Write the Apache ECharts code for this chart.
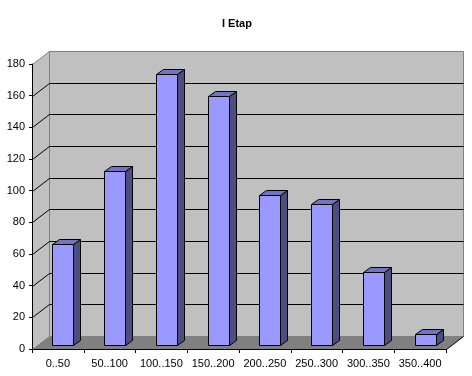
<!DOCTYPE html>
<html><head><meta charset="utf-8">
<script src="https://cdn.jsdelivr.net/npm/echarts@6/dist/echarts.min.js"></script>
<style>html,body{margin:0;padding:0;background:#fff}#c{width:472px;height:376px}</style>
</head><body><div id="c"></div>
<script>
const chartTitle = 'I Etap';
const categories = ['0..50','50..100','100..150','150..200','200..250','250..300','300..350','350..400'];
const values = [64, 110, 171, 157, 95, 89, 46, 7];
const yTicks = [0, 20, 40, 60, 80, 100, 120, 140, 160, 180];

const DX = 17, DY = -13;   // wall depth offset
const BX = 5, BY = -4;     // bar plane offset
const SX = 7, SY = -5;     // bar depth
const BAR = 0.41;
const FONT = 'Liberation Sans, Arial, sans-serif';

const px = v => Math.round(v) + 0.5;

function frame(params, api) {
  const cs = params.coordSys;
  const x0 = px(cs.x), x1 = px(cs.x + cs.width), yb = px(cs.y + cs.height), yt = px(cs.y);
  const c = [];
  c.push({type:'rect', shape:{x:x0+DX, y:yt+DY, width:x1-x0, height:yb-yt}, style:{fill:'#c0c0c0', stroke:'#808080', lineWidth:1}});
  c.push({type:'polygon', shape:{points:[[x0,yt],[x0+DX,yt+DY],[x0+DX,yb+DY],[x0,yb]]}, style:{fill:'#c0c0c0'}});
  c.push({type:'line', shape:{x1:x0,y1:yt,x2:x0+DX,y2:yt+DY}, style:{stroke:'#808080', lineWidth:1}});
  c.push({type:'line', shape:{x1:x0+DX,y1:yt+DY,x2:x0+DX,y2:yb+DY}, style:{stroke:'#808080', lineWidth:1}});
  yTicks.forEach((t, i) => {
    if (i === 0 || i === yTicks.length - 1) return;
    const y = px(api.coord([0, t])[1]);
    c.push({type:'polyline', shape:{points:[[x0,y],[x0+DX,y+DY],[x1+DX,y+DY]]}, style:{stroke:'#000', lineWidth:1, fill:null}});
  });
  c.push({type:'polygon', shape:{points:[[x0,yb],[x1,yb],[x1+DX,yb+DY],[x0+DX,yb+DY]]}, style:{fill:'#808080'}});
  c.push({type:'line', shape:{x1:x0,y1:yb,x2:x0+DX,y2:yb+DY}, style:{stroke:'#808080', lineWidth:1}});
  c.push({type:'line', shape:{x1:x1,y1:yb,x2:x1+DX,y2:yb+DY}, style:{stroke:'#000', lineWidth:1}});
  return {type:'group', children:c};
}

function bar(params, api) {
  const top = api.coord([api.value(0), api.value(1)]);
  const base = api.coord([api.value(0), 0]);
  const w = api.size([1, 0])[0] * BAR;
  const l = px(top[0] - w/2 + BX), r = px(top[0] + w/2 + BX);
  const t = px(top[1] + BY), b = px(base[1] + BY);
  const st = {stroke:'#000', lineWidth:1, lineJoin:'miter'};
  return {type:'group', children:[
    {type:'polygon', shape:{points:[[r,t],[r+SX,t+SY],[r+SX,b+SY],[r,b]]}, style:Object.assign({fill:'#4d4d80'}, st)},
    {type:'polygon', shape:{points:[[l,t],[l+SX,t+SY],[r+SX,t+SY],[r,t]]}, style:Object.assign({fill:'#7373c0'}, st)},
    {type:'rect', shape:{x:l, y:t, width:r-l, height:b-t}, style:Object.assign({fill:'#9999ff'}, st)}
  ]};
}

const chart = echarts.init(document.getElementById('c'));
chart.setOption({
  animation: false,
  backgroundColor: '#fff',
  title: {text: chartTitle, left: 217, top: 13, textStyle:{fontFamily:FONT, fontSize:11, fontWeight:'bold', color:'#000'}},
  grid: {left: 32, right: 26, top: 64, bottom: 27},
  xAxis: {
    type: 'category', data: categories, z: 10,
    axisLine: {show: true, lineStyle:{color:'#000'}},
    axisTick: {show: true, length: 4, inside: false, lineStyle:{color:'#000'}},
    axisLabel: {fontFamily: FONT, fontSize: 11, color: '#000', margin: 9, interval: 0},
    splitLine: {show: false}
  },
  yAxis: {
    type: 'value', min: yTicks[0], max: yTicks[yTicks.length-1], interval: yTicks[1]-yTicks[0], z: 10,
    axisLine: {show: true, lineStyle:{color:'#000'}},
    axisTick: {show: true, length: 3, lineStyle:{color:'#000'}},
    axisLabel: {fontFamily: FONT, fontSize: 11, color: '#000', margin: 7},
    splitLine: {show: false}
  },
  series: [
    {type:'custom', renderItem: frame, data: [[0, 0]], z: 1, silent: true, clip: false},
    {type:'custom', renderItem: bar, data: values.map((v, i) => [i, v]), z: 3, clip: false}
  ]
});
</script></body></html>
